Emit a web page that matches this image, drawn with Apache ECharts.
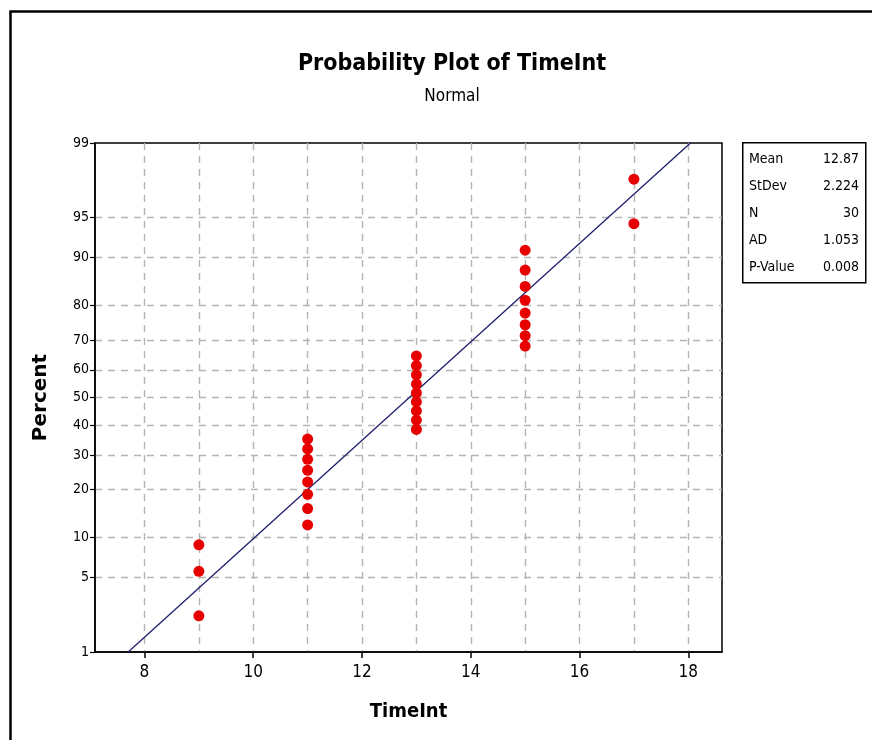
<!DOCTYPE html>
<html>
<head>
<meta charset="utf-8">
<script src="https://cdn.jsdelivr.net/npm/echarts@6/dist/echarts.min.js"></script>
<style>
  html, body { margin: 0; padding: 0; background: #fff; }
  #chart { width: 872px; height: 740px; }
</style>
</head>
<body>
<div id="chart"></div>
<script>
// data
const timeInt = [9, 9, 9,
  11, 11, 11, 11, 11, 11, 11, 11,
  13, 13, 13, 13, 13, 13, 13, 13, 13,
  15, 15, 15, 15, 15, 15, 15, 15,
  17, 17]
const percent = [2.3, 5.6, 8.9,
  12.2, 15.5, 18.8, 22.0, 25.3, 28.6, 31.9, 35.2,
  38.5, 41.8, 45.1, 48.4, 51.6, 54.9, 58.2, 61.5, 64.8,
  68.1, 71.4, 74.7, 78.0, 81.3, 84.5, 87.8, 91.1,
  94.4, 97.7]
// fitted normal line, ends at 1% and 99%
const fitX = [7.70, 18.04]
const fitPct = [1, 99]
const pctTicks = [1, 5, 10, 20, 30, 40, 50, 60, 70, 80, 90, 95, 99]
const pctGrid = [5, 10, 20, 30, 40, 50, 60, 70, 80, 90, 95]
const xLabelTicks = [8, 10, 12, 14, 16, 18]
const xGridTicks = [8, 9, 10, 11, 12, 13, 14, 15, 16, 17, 18]
const statNames = ['Mean', 'StDev', 'N', 'AD', 'P-Value']
const statValues = ['12.87', '2.224', '30', '1.053', '0.008']

// inverse normal cdf (Acklam), used for the probability scale
function probit(p) {
  const a = [-39.69683028665376, 220.9460984245205, -275.9285104469687, 138.3577518672690, -30.66479806614716, 2.506628277459239]
  const b = [-54.47609879822406, 161.5858368580409, -155.6989798598866, 66.80131188771972, -13.28068155288572]
  const c = [-0.007784894002430293, -0.3223964580411365, -2.400758277161838, -2.549732539343734, 4.374664141464968, 2.938163982698783]
  const d = [0.007784695709041462, 0.3224671290700398, 2.445134137142996, 3.754408661907416]
  const pl = 0.02425
  let q, r
  if (p < pl) {
    q = Math.sqrt(-2 * Math.log(p))
    return (((((c[0] * q + c[1]) * q + c[2]) * q + c[3]) * q + c[4]) * q + c[5]) / ((((d[0] * q + d[1]) * q + d[2]) * q + d[3]) * q + 1)
  }
  if (p > 1 - pl) {
    q = Math.sqrt(-2 * Math.log(1 - p))
    return -(((((c[0] * q + c[1]) * q + c[2]) * q + c[3]) * q + c[4]) * q + c[5]) / ((((d[0] * q + d[1]) * q + d[2]) * q + d[3]) * q + 1)
  }
  q = p - 0.5
  r = q * q
  return (((((a[0] * r + a[1]) * r + a[2]) * r + a[3]) * r + a[4]) * r + a[5]) * q / (((((b[0] * r + b[1]) * r + b[2]) * r + b[3]) * r + b[4]) * r + 1)
}
const z = p => probit(p / 100)
const zTicks = pctTicks.map(z)
const zGrid = pctGrid.map(z)

const narrow = '"Liberation Sans Narrow", "DejaVu Sans Condensed", sans-serif'

const chart = echarts.init(document.getElementById('chart'))
const statsTop = 160
const statsStep = 27
const statTexts = []
statNames.forEach((n, i) => {
  statTexts.push({
    type: 'text', left: 749, top: statsTop + i * statsStep - 8,
    style: { text: n, font: '14px ' + narrow, fill: '#000' },
  })
  statTexts.push({
    type: 'text', right: 13, top: statsTop + i * statsStep - 8,
    style: { text: statValues[i], font: '14px ' + narrow, fill: '#000', align: 'right' },
  })
})

const gridLine = { show: true, lineStyle: { color: '#b4b4b4', type: [7, 6], width: 1.4 } }

chart.setOption({
  animation: false,
  backgroundColor: '#fff',
  title: {
    text: 'Probability Plot of TimeInt',
    subtext: 'Normal',
    left: 447,
    top: 48,
    textAlign: 'center',
    itemGap: 12,
    textStyle: { fontFamily: narrow, fontWeight: 'bold', fontSize: 23, color: '#000' },
    subtextStyle: { fontFamily: narrow, fontSize: 17, color: '#000' },
  },
  grid: {
    left: 95,
    top: 143,
    right: 150,
    bottom: 88,
    show: true,
    borderColor: '#000',
    borderWidth: 1.5,
  },
  xAxis: [
    {
      type: 'value',
      min: 7.09,
      max: 18.62,
      name: 'TimeInt',
      nameLocation: 'middle',
      nameGap: 50,
      nameTextStyle: { fontFamily: narrow, fontWeight: 'bold', fontSize: 20, color: '#000' },
      axisLine: { onZero: false, lineStyle: { color: '#000', width: 1.5 } },
      axisTick: { show: true, length: 6, customValues: xLabelTicks, lineStyle: { color: '#000', width: 1.5 } },
      axisLabel: { customValues: xLabelTicks, margin: 12, fontFamily: narrow, fontSize: 17, color: '#000' },
      splitLine: { show: false },
      z: 3,
    },
    {
      type: 'value',
      min: 7.09,
      max: 18.62,
      position: 'bottom',
      axisLine: { show: false, onZero: false },
      axisTick: { show: false, customValues: xGridTicks },
      axisLabel: { show: false, customValues: xGridTicks },
      splitLine: gridLine,
    },
  ],
  yAxis: [
    {
      type: 'value',
      min: z(1),
      max: z(99),
      name: 'Percent',
      nameLocation: 'middle',
      nameGap: 44,
      nameTextStyle: { fontFamily: 'DejaVu Sans', fontWeight: 'bold', fontSize: 20, color: '#000' },
      axisLine: { show: true, onZero: false, lineStyle: { color: '#000', width: 1.5 } },
      axisTick: { show: true, length: 5, customValues: zTicks, lineStyle: { color: '#000', width: 1.2 } },
      axisLabel: {
        customValues: zTicks,
        margin: 6,
        fontFamily: narrow,
        fontSize: 14,
        color: '#000',
        formatter: v => {
          const i = zTicks.findIndex(t => Math.abs(t - v) < 1e-6)
          return i >= 0 ? String(pctTicks[i]) : ''
        },
      },
      splitLine: { show: false },
      z: 3,
    },
    {
      type: 'value',
      min: z(1),
      max: z(99),
      position: 'left',
      axisLine: { show: false, onZero: false },
      axisTick: { show: false, customValues: zGrid },
      axisLabel: { show: false, customValues: zGrid },
      splitLine: gridLine,
    },
  ],
  series: [
    {
      name: 'Fit',
      type: 'line',
      xAxisIndex: 0,
      yAxisIndex: 0,
      data: fitX.map((x, i) => [x, z(fitPct[i])]),
      showSymbol: false,
      lineStyle: { color: '#1f1f6e', width: 1.3 },
      z: 3,
    },
    {
      name: 'TimeInt',
      type: 'scatter',
      xAxisIndex: 0,
      yAxisIndex: 0,
      data: timeInt.map((x, i) => [x, z(percent[i])]),
      symbol: 'circle',
      symbolSize: 11,
      itemStyle: { color: '#e60000', opacity: 1 },
      z: 4,
    },
  ],
  graphic: [
    {
      type: 'rect',
      left: 8,
      top: 9,
      shape: { width: 900, height: 800 },
      style: { fill: 'none', stroke: '#000', lineWidth: 2.5 },
      silent: true,
    },
    {
      type: 'rect',
      left: 742,
      top: 142,
      shape: { width: 123, height: 140 },
      style: { fill: '#fff', stroke: '#000', lineWidth: 1.5 },
    },
    ...statTexts,
  ],
})
</script>
</body>
</html>
